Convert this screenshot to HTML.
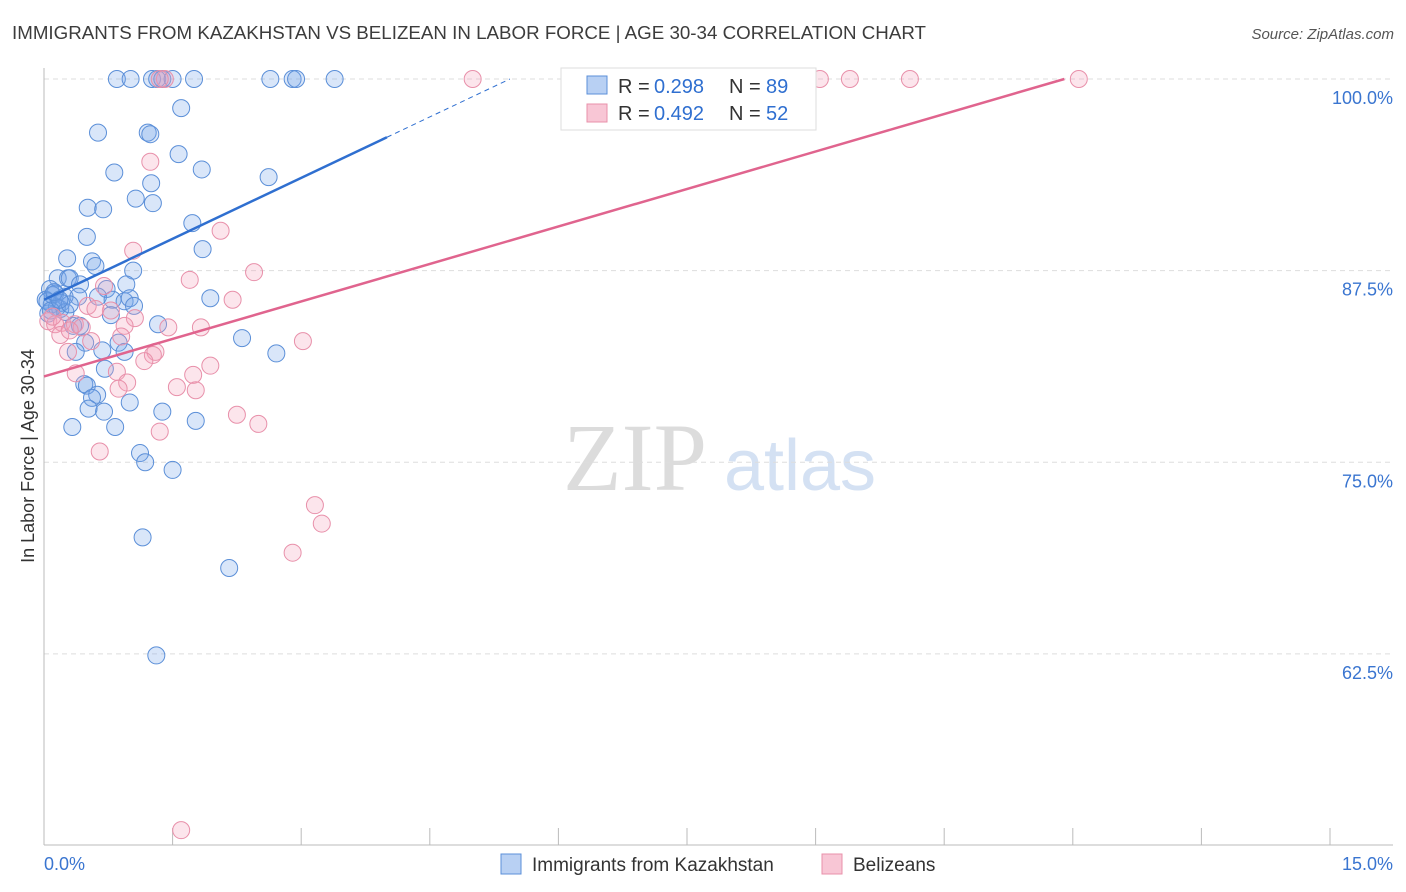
<!DOCTYPE html>
<html><head><meta charset="utf-8"><style>
body{margin:0;background:#fff;font-family:"Liberation Sans",sans-serif;}
svg{display:block}
</style></head><body>
<svg id="chart" width="1406" height="892" xmlns="http://www.w3.org/2000/svg">
<text x="12" y="39" font-size="18" fill="#3c3c3c" textLength="914" lengthAdjust="spacingAndGlyphs">IMMIGRANTS FROM KAZAKHSTAN VS BELIZEAN IN LABOR FORCE | AGE 30-34 CORRELATION CHART</text>
<text x="1394" y="39" font-size="15" font-style="italic" fill="#555" text-anchor="end">Source: ZipAtlas.com</text>
<g>
<text x="635" y="490" font-family="Liberation Serif,serif" font-size="96" fill="#dcdcdc" text-anchor="middle">ZIP</text>
<text x="800" y="490" font-size="72" fill="#d4e1f3" text-anchor="middle">atlas</text>
</g>
<text transform="translate(34,456) rotate(-90)" font-size="18" fill="#333" text-anchor="middle">In Labor Force | Age 30-34</text>
<g id="grid"></g>
<g id="axes"></g>
<g id="pts"></g>
<g id="trend"></g>
<g>
<rect x="561" y="68" width="255" height="62" fill="#fff" stroke="#ddd"/>
<rect x="587" y="76" width="20" height="18" fill="#b8d0f3" stroke="#5b8fd8"/>
<text y="93" font-size="20" fill="#333"><tspan x="618">R = </tspan><tspan x="654" fill="#2f6fd0">0.298</tspan><tspan x="729">N = </tspan><tspan x="766" fill="#2f6fd0">89</tspan></text>
<rect x="587" y="104" width="20" height="18" fill="#f8c6d5" stroke="#e890aa"/>
<text y="120" font-size="20" fill="#333"><tspan x="618">R = </tspan><tspan x="654" fill="#2f6fd0">0.492</tspan><tspan x="729">N = </tspan><tspan x="766" fill="#2f6fd0">52</tspan></text>
</g>
<g>
<rect x="501" y="854" width="20" height="20" fill="#b8d0f3" stroke="#5b8fd8"/>
<text x="532" y="871" font-size="19" fill="#333">Immigrants from Kazakhstan</text>
<rect x="822" y="854" width="20" height="20" fill="#f8c6d5" stroke="#e890aa"/>
<text x="853" y="871" font-size="19" fill="#333">Belizeans</text>
</g>
</svg>
<script>
const yTicks=[62.5,75,87.5,100];
const yTickLabels=["62.5%","75.0%","87.5%","100.0%"];
const xTicks=[0,1.5,3,4.5,6,7.5,9,10.5,12,13.5,15];
const blueX=[0.85,1.01,1.26,1.32,1.38,1.5,1.75,2.64,2.9,2.94,3.39,1.6,0.63,1.21,1.24,1.57,0.82,1.84,2.62,1.25,1.07,1.27,0.51,0.69,1.73,0.5,1.85,0.27,0.56,0.6,1.04,0.16,0.28,0.3,0.96,0.73,0.42,0.07,0.13,0.02,0.09,0.19,0.05,0.24,0.4,0.63,0.8,0.94,1.0,1.05,1.94,0.78,1.33,0.34,0.42,2.31,0.48,0.87,0.68,0.37,0.94,2.71,0.71,0.47,0.5,0.62,0.56,1.0,0.7,1.38,0.52,1.77,0.33,0.83,1.12,1.18,1.5,1.15,2.16,1.31,0.1,0.2,0.15,0.04,0.25,0.12,0.3,0.08,0.18];
const blueY=[100,100,100,100,100,100,100,100,100,100,100,98.1,96.5,96.5,96.4,95.1,93.9,94.1,93.6,93.2,92.2,91.9,91.6,91.5,90.6,89.7,88.9,88.3,88.1,87.8,87.5,87.0,87.0,87.0,86.6,86.3,86.6,86.3,86.0,85.6,85.3,85.0,84.7,85.8,85.8,85.8,85.6,85.5,85.7,85.2,85.7,84.6,84.0,83.9,83.9,83.1,82.8,82.8,82.3,82.2,82.2,82.1,81.1,80.1,80.0,79.4,79.2,78.9,78.3,78.3,78.5,77.7,77.3,77.3,75.6,75.0,74.5,70.1,68.1,62.4,85.9,85.4,85.1,85.5,84.8,86.1,85.3,84.9,85.6];
const pinkX=[5.0,9.05,9.4,10.1,12.07,1.41,1.35,1.24,2.06,1.04,2.45,1.7,0.7,2.2,0.51,0.78,1.06,0.05,0.13,0.21,0.36,0.44,0.94,1.45,1.83,0.19,3.02,0.55,0.28,1.3,1.27,1.17,1.94,1.74,0.85,0.37,0.97,0.87,1.55,1.77,2.25,2.5,1.35,0.65,3.16,3.24,2.9,1.6,0.1,0.3,0.6,0.9];
const pinkY=[100,100,100,100,100,100,100,94.6,90.1,88.8,87.4,86.9,86.5,85.6,85.2,84.9,84.4,84.2,84.0,84.1,84.0,83.8,83.9,83.8,83.8,83.3,82.9,82.9,82.2,82.2,82.0,81.6,81.3,80.7,80.9,80.8,80.2,79.8,79.9,79.7,78.1,77.5,77.0,75.7,72.2,71.0,69.1,51.0,84.5,83.6,85.0,83.2];
const blueTrend=[85.6,2.65];
const pinkTrend=[80.6,1.63];
const X0=44,XW=1286/15,Y100=79,YS=15.33;
const sx=v=>X0+v*XW, sy=v=>Y100+(100-v)*YS;
const NS="http://www.w3.org/2000/svg";
function mk(tag,attrs,parent){const e=document.createElementNS(NS,tag);for(const k in attrs)e.setAttribute(k,attrs[k]);parent.appendChild(e);return e;}
const grid=document.getElementById('grid'),axes=document.getElementById('axes');
yTicks.forEach((t,i)=>{
 const l=mk('line',{x1:44,x2:1393,y1:sy(t),y2:sy(t),stroke:'#ddd','stroke-dasharray':'5,4'},grid);
 
 
 const tx=mk('text',{x:1393,y:sy(t)+25,'font-size':18,fill:'#3a75d0','text-anchor':'end'},axes);
 tx.textContent=yTickLabels[i];
 
 
});
const ax=mk('line',{x1:44,x2:1393,y1:845,y2:845,stroke:'#bbb'},axes);


const ay=mk('line',{x1:44,x2:44,y1:68,y2:845,stroke:'#bbb'},axes);


xTicks.forEach(t=>{const l=mk('line',{x1:sx(t),x2:sx(t),y1:828,y2:845,stroke:'#bbb'},axes);
 
 });
const xl0=mk('text',{x:44,y:870,'font-size':18,fill:'#3a75d0'},axes);xl0.textContent='0.0%';


const xl1=mk('text',{x:1393,y:870,'font-size':18,fill:'#3a75d0','text-anchor':'end'},axes);xl1.textContent='15.0%';


const pts=document.getElementById('pts');
blueX.forEach((x,i)=>{const c=mk('circle',{cx:sx(x),cy:sy(blueY[i]),r:8.5,fill:'rgba(120,165,235,0.28)',stroke:'#5b8fd8','stroke-width':1},pts);
 
 });
pinkX.forEach((x,i)=>{const c=mk('circle',{cx:sx(x),cy:sy(pinkY[i]),r:8.5,fill:'rgba(245,160,185,0.28)',stroke:'#e890aa','stroke-width':1},pts);
 
 });
const tr=document.getElementById('trend');
const bEnd=4.0,bDash=(100-blueTrend[0])/blueTrend[1];
const b1=mk('line',{x1:sx(0),y1:sy(blueTrend[0]),x2:sx(bEnd),y2:sy(blueTrend[0]+blueTrend[1]*bEnd),stroke:'#2f6fd0','stroke-width':2.5},tr);


const b2=mk('line',{x1:sx(bEnd),y1:sy(blueTrend[0]+blueTrend[1]*bEnd),x2:sx(bDash),y2:sy(100),stroke:'#2f6fd0','stroke-width':1,'stroke-dasharray':'5,4'},tr);


const pEnd=(100-pinkTrend[0])/pinkTrend[1];
const p1=mk('line',{x1:sx(0),y1:sy(pinkTrend[0]),x2:sx(pEnd),y2:sy(100),stroke:'#e0648e','stroke-width':2.5},tr);


</script>
</body></html>
